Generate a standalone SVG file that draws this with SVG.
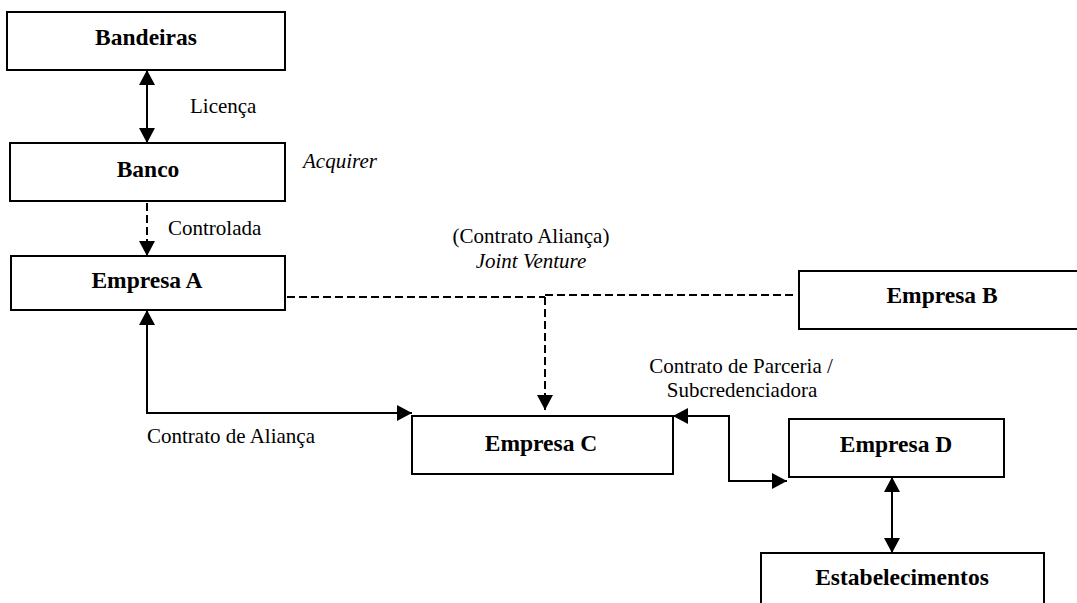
<svg xmlns="http://www.w3.org/2000/svg" width="1077" height="603" viewBox="0 0 1077 603">
<style>
.box{fill:#fff;stroke:#000;stroke-width:2}
.lbl{font-family:'Liberation Serif','Tinos','Times New Roman','DejaVu Serif',serif;font-size:23.5px;font-weight:bold;fill:#000;text-anchor:middle}
.t{font-family:'Liberation Serif','Tinos','Times New Roman','DejaVu Serif',serif;font-size:21px;fill:#000}
.it{font-style:italic}
.c{fill:none;stroke:#000;stroke-width:2}
.d{stroke-dasharray:8 4}
</style>
<defs>
<marker id="ah" viewBox="0 0 15 16" refX="15" refY="8" markerWidth="15" markerHeight="16" markerUnits="userSpaceOnUse" orient="auto-start-reverse">
<path d="M0,0 L15,8 L0,16 Z" fill="#000"/>
</marker>
</defs>
<rect width="1077" height="603" fill="#fff"/>
<g id="bandeiras"><rect class="box" x="7" y="12" width="278" height="58"/><text class="lbl" x="146" y="45">Bandeiras</text></g>
<g id="banco"><rect class="box" x="10" y="143" width="275" height="58"/><text class="lbl" x="148" y="177">Banco</text></g>
<g id="empresaA"><rect class="box" x="11" y="256" width="274" height="54"/><text class="lbl" x="147" y="288">Empresa A</text></g>
<g id="empresaB"><rect class="box" x="799" y="271" width="290" height="58"/><text class="lbl" x="942" y="303">Empresa B</text></g>
<g id="empresaC"><rect class="box" x="412" y="416" width="261" height="58"/><text class="lbl" x="541" y="451">Empresa C</text></g>
<g id="empresaD"><rect class="box" x="789" y="419" width="215" height="58"/><text class="lbl" x="896" y="452">Empresa D</text></g>
<g id="estabelecimentos"><rect class="box" x="761" y="553" width="283" height="70"/><text class="lbl" x="902" y="585">Estabelecimentos</text></g>
<g id="connectors">
<line class="c" x1="147" y1="70" x2="147" y2="143" marker-start="url(#ah)" marker-end="url(#ah)"/>
<line class="c d" x1="147" y1="203" x2="147" y2="256" marker-end="url(#ah)"/>
<path class="c" d="M147,310 V413 H412" marker-start="url(#ah)" marker-end="url(#ah)"/>
<path class="c d" d="M287,297 H545 M545,295 H797"/>
<line class="c d" x1="545" y1="297" x2="545" y2="410" marker-end="url(#ah)"/>
<path class="c" d="M673,416 H729 V481 H787" marker-start="url(#ah)" marker-end="url(#ah)"/>
<line class="c" x1="892" y1="477" x2="892" y2="553" marker-start="url(#ah)" marker-end="url(#ah)"/>
</g>
<g id="labels">
<text class="t" x="190" y="113">Licença</text>
<text class="t it" x="303" y="168">Acquirer</text>
<text class="t" x="168" y="235">Controlada</text>
<text class="t" x="531" y="243" text-anchor="middle">(Contrato Aliança)</text>
<text class="t it" x="531" y="268" text-anchor="middle">Joint Venture</text>
<text class="t" x="741" y="373" text-anchor="middle">Contrato de Parceria /</text>
<text class="t" x="742" y="397" text-anchor="middle">Subcredenciadora</text>
<text class="t" x="147" y="443">Contrato de Aliança</text>
</g>
</svg>
